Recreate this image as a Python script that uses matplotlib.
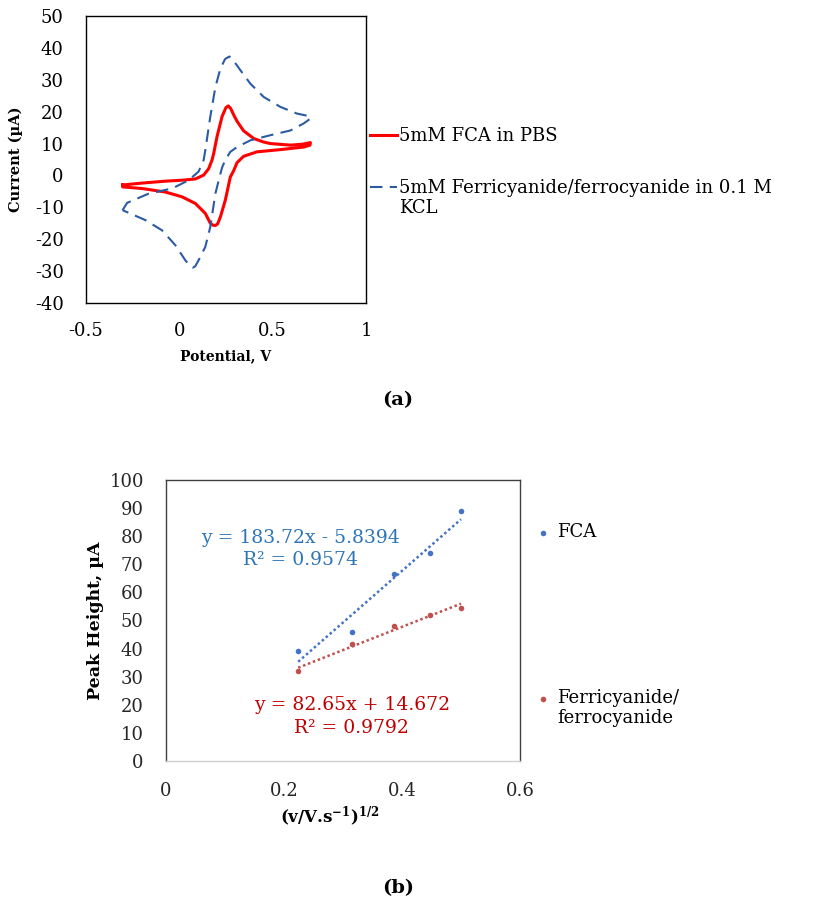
import matplotlib
matplotlib.use("Agg")
import matplotlib.pyplot as plt

plt.rcParams['font.family'] = ['DejaVu Serif']
plt.rcParams['mathtext.fontset'] = 'dejavuserif'
plt.rcParams['axes.unicode_minus'] = False

# ---- (a) cyclic voltammograms ----
fca_potential = [-0.304, -0.20, -0.075, 0.014, 0.086, 0.13, 0.157, 0.175, 0.184, 0.202,
                 0.229, 0.25, 0.262, 0.275, 0.291, 0.309, 0.344, 0.398, 0.45, 0.487,
                 0.595, 0.66, 0.702,
                 0.70, 0.666, 0.541, 0.416, 0.344, 0.309, 0.291, 0.273, 0.246, 0.22,
                 0.205, 0.193, 0.18, 0.166, 0.139, 0.086, 0.014, -0.075, -0.20, -0.304, -0.304]
fca_current = [-3.0, -2.4, -1.8, -1.5, -1.1, 0.1, 2.1, 4.8, 6.9, 12.2,
               18.5, 21.3, 21.8, 21.0, 19.0, 17.0, 14.0, 11.6, 10.5, 10.0,
               9.5, 9.8, 10.3,
               9.5, 8.9, 8.1, 7.4, 6.0, 4.0, 1.5, -0.5, -7.8, -13.0,
               -15.2, -15.7, -15.6, -15.0, -11.9, -8.8, -6.7, -5.2, -4.1, -3.6, -3.0]

fcn_potential = [-0.304, -0.28, -0.164, -0.039, 0.05, 0.103, 0.13, 0.139, 0.166, 0.193,
                 0.22, 0.245, 0.268, 0.29, 0.327, 0.38, 0.452, 0.541, 0.63, 0.702,
                 0.702, 0.666, 0.595, 0.487, 0.38, 0.309, 0.273, 0.246, 0.229, 0.211,
                 0.193, 0.166, 0.139, 0.103, 0.085, 0.072, 0.055, 0.032, -0.021, -0.093,
                 -0.182, -0.304]
fcn_current = [-10.9, -8.6, -5.7, -4.1, -1.5, 1.2, 4.8, 7.9, 18.5, 27.7,
               33.5, 36.5, 37.3, 36.0, 33.0, 28.8, 24.6, 21.5, 19.4, 18.5,
               17.8, 16.3, 14.1, 12.6, 11.0, 8.9, 7.4, 4.8, 2.5, -1.5,
               -5.7, -16.1, -22.4, -26.6, -28.5, -28.9, -28.2, -26.6, -21.9, -17.2,
               -14.0, -10.9]

cv_labels = ['5mM FCA in PBS', '5mM Ferricyanide/ferrocyanide in 0.1 M\nKCL']
cv_xticks = [-0.5, 0, 0.5, 1]
cv_yticks = [-40, -30, -20, -10, 0, 10, 20, 30, 40, 50]

# ---- (b) peak height vs sqrt(scan rate) ----
sqrt_rate = [0.224, 0.316, 0.387, 0.447, 0.5]
fca_peak = [39.1, 46.0, 66.4, 74.1, 89.1]
fcn_peak = [32.0, 41.6, 48.1, 51.8, 54.6]
fca_fit = (183.72, -5.8394, 0.9574)
fcn_fit = (82.65, 14.672, 0.9792)
peak_labels = ['FCA', 'Ferricyanide/\nferrocyanide']

RED = '#ff0000'
DBLUE = '#2c5ba3'
PBLUE = '#4472c4'
PRED = '#c0504d'
TBLUE = '#2e75b6'
TRED = '#c00000'

fig = plt.figure(figsize=(8.13, 9.08), dpi=100)

# ---------------- (a) ----------------
ax1 = fig.add_axes([0.1058, 0.6663, 0.3444, 0.3161])
ax1.plot(fca_potential, fca_current, color=RED, lw=2.2, solid_joinstyle='round')
ax1.plot(fcn_potential, fcn_current, color=DBLUE, lw=1.5, dashes=(6, 3.5))
ax1.set_xlim(-0.5, 1)
ax1.set_ylim(-40, 50)
ax1.set_xticks(cv_xticks)
ax1.set_xticklabels(['-0.5', '0', '0.5', '1'])
ax1.set_yticks(cv_yticks)
ax1.tick_params(length=0, labelsize=13, pad=14)
ax1.tick_params(axis='y', pad=16)
for s in ax1.spines.values():
    s.set_color('black')
    s.set_linewidth(1.0)
ax1.set_xlabel('Potential, V', fontsize=10, fontweight='bold')
ax1.set_ylabel('Current (µA)', fontsize=10.5, fontweight='bold')
ax1.xaxis.set_label_coords(0.5, -0.16)
ax1.yaxis.set_label_coords(-0.225, 0.5)

# legend drawn beside the axes
for yy, col, kw, lab in [(0.585, RED, dict(lw=2.2), cv_labels[0]),
                         (0.404, DBLUE, dict(lw=1.5, dashes=(6, 3.5)), cv_labels[1])]:
    ax1.plot([1.014, 1.111], [yy, yy], color=col, transform=ax1.transAxes,
             clip_on=False, **kw)
    ax1.text(1.118, yy + 0.028, lab, transform=ax1.transAxes, fontsize=13,
             va='top', ha='left', linespacing=1.15)

fig.text(398 / 813, 1 - 400 / 908, '(a)', fontsize=14, fontweight='bold',
         ha='center', va='center')

# ---------------- (b) ----------------
ax2 = fig.add_axes([0.2042, 0.1619, 0.4354, 0.3095])
for slope, icpt, col in [(fca_fit[0], fca_fit[1], PBLUE), (fcn_fit[0], fcn_fit[1], PRED)]:
    xs = [sqrt_rate[0], sqrt_rate[-1]]
    ax2.plot(xs, [slope * v + icpt for v in xs], color=col, lw=1.8, ls=(0, (1, 1.1)))
ax2.plot(sqrt_rate, fca_peak, 'o', color=PBLUE, ms=4, mec='none')
ax2.plot(sqrt_rate, fcn_peak, 'o', color=PRED, ms=4, mec='none')
ax2.set_xlim(0, 0.6)
ax2.set_ylim(0, 100)
ax2.set_xticks([0, 0.2, 0.4, 0.6])
ax2.set_xticklabels(['0', '0.2', '0.4', '0.6'])
ax2.set_yticks(range(0, 101, 10))
ax2.tick_params(length=0, labelsize=13, pad=15, labelcolor='#262626')
ax2.tick_params(axis='y', pad=16)
for k in ['top', 'right', 'left']:
    ax2.spines[k].set_color('#404040')
    ax2.spines[k].set_linewidth(1.0)
ax2.spines['bottom'].set_color('#d0d0d0')
ax2.spines['bottom'].set_linewidth(1.0)
ax2.set_xlabel(r'(v/V.s$^{\mathbf{-1}}$)$^{\mathbf{1/2}}$', fontsize=12, fontweight='bold')
ax2.set_ylabel('Peak Height, µA', fontsize=12.5, fontweight='bold')
ax2.xaxis.set_label_coords(0.463, -0.155)
ax2.yaxis.set_label_coords(-0.175, 0.5)

ax2.text(0.379, 0.753, 'y = %.2fx - %.4f\nR² = %.4f' % (fca_fit[0], -fca_fit[1], fca_fit[2]),
         transform=ax2.transAxes, color=TBLUE, fontsize=13.5, ha='center', va='center',
         multialignment='center', linespacing=1.3)
ax2.text(0.525, 0.158, 'y = %.2fx + %.3f\nR² = %.4f' % (fcn_fit[0], fcn_fit[1], fcn_fit[2]),
         transform=ax2.transAxes, color=TRED, fontsize=13.5, ha='center', va='center',
         multialignment='center', linespacing=1.3)

for yy, col, lab in [(0.811, PBLUE, peak_labels[0]), (0.221, PRED, peak_labels[1])]:
    ax2.plot([1.065], [yy], 'o', color=col, ms=4, mec='none',
             transform=ax2.transAxes, clip_on=False)
    ax2.text(1.105, yy + 0.035, lab, transform=ax2.transAxes, fontsize=13,
             va='top', ha='left', linespacing=1.15)

fig.text(398 / 813, 1 - 888 / 908, '(b)', fontsize=14, fontweight='bold',
         ha='center', va='center')

fig.savefig('out.png', dpi=100)
